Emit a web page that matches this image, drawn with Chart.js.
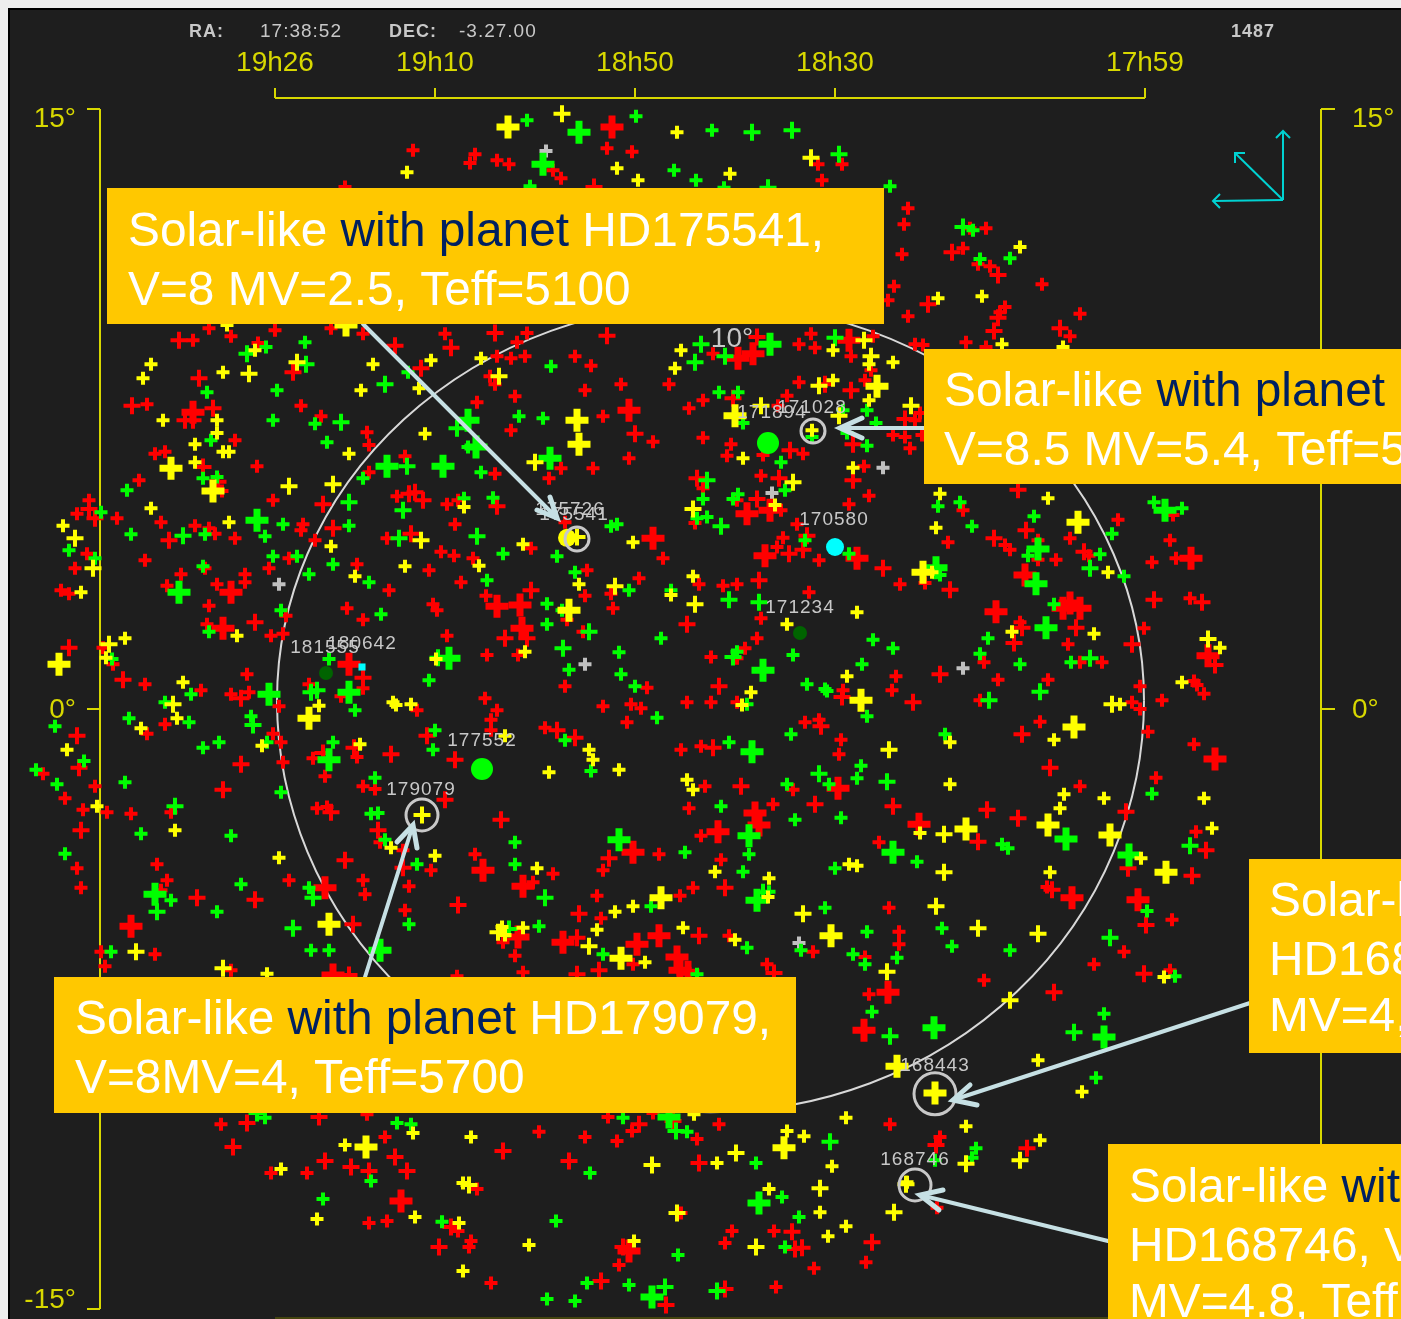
<!DOCTYPE html>
<html>
<head>
<meta charset="utf-8">
<title>HD star field</title>
<script src="https://cdn.jsdelivr.net/npm/chart.js@4/dist/chart.umd.min.js"></script>
<style>
  html, body { margin: 0; padding: 0; background: #eeeeee; overflow: hidden; }
  canvas { display: block; }
</style>
</head>
<body>
<canvas id="sky" width="1401" height="1319"></canvas>
<script>
// x = right ascension in minutes of time, y = declination in degrees
const raTicks = [1166, 1150, 1130, 1110, 1079];
const raLabels = ["19h26", "19h10", "18h50", "18h30", "17h59"];
const decTicks = [15, 0, -15];
const decLabels = ["15°", "0°", "-15°"];

const redSmall = [[1152.2,13.97],[1146,13.87],[1146.5,13.65],[1132.8,14.02],[1130.3,13.93],[1138.2,13.47],[1137.4,13.27],[1143.8,13.72],[1142.6,13.62],[1159,13.05],[1111.7,13.62],[1109.3,13.62],[1111.3,13.22],[1102.7,12.52],[1103.1,12.12],[1103.3,11.37],[1104.1,10.57],[1104.7,10.22],[1102.7,9.82],[1140.8,9.4],[1096.5,12.02],[1094.9,12.02],[1097.2,11.52],[1095.7,11.12],[1094.5,11.07],[1089.3,10.62],[1093,10.05],[1093.5,9.92],[1085.5,9.88],[1086.5,9.32],[1096.9,9.17],[1094.9,9.05],[1172.6,9.52],[1170.4,9.32],[1166,9.47],[1174.2,9.22],[1167.7,9.15],[1149,9.38],[1157.2,9.38],[1160.4,9.52],[1178.8,7.62],[1163.4,7.58],[1161.4,7.32],[1170,6.72],[1156.8,6.92],[1156.6,6.6],[1178,6.38],[1177,6.43],[1167.8,6.07],[1153,6.32],[1179.6,5.72],[1171.3,5.45],[1156.6,5.92],[1166.2,5.22],[1153.8,5.32],[1148.8,5.12],[1147.7,5.22],[1184.6,5.22],[1185.8,4.88],[1181.8,4.77],[1177.4,4.67],[1163.2,4.62],[1163.4,4.47],[1148,4.62],[1174,4.58],[1172.6,4.52],[1172,4.38],[1170,4.27],[1162,4.22],[1154.8,4.27],[1184.8,3.88],[1149.4,3.93],[1148.1,3.83],[1186,3.52],[1179,3.72],[1173,3.52],[1166.6,3.52],[1164.6,3.77],[1157.8,3.62],[1150.6,3.47],[1175.4,3.37],[1169,3.37],[1169,3.17],[1147.4,3.17],[1187.4,2.97],[1186.6,2.88],[1176.8,3.08],[1171.8,3.12],[1154.6,2.97],[1172.6,2.58],[1158.8,2.52],[1157.2,2.23],[1150.2,2.62],[1149.8,2.47],[1164.9,2.33],[1172.8,2.12],[1166.4,1.83],[1165.2,1.88],[1148.8,1.83],[1183.2,1.53],[1182.2,1.12],[1179,0.62],[1173.4,0.47],[1178.8,-0.62],[1177,-0.38],[1168.8,0.87],[1170.4,0.37],[1168.6,0.42],[1165.6,0.07],[1157.2,0.52],[1162.6,0.62],[1159.4,0.32],[1151.8,-0.03],[1189.2,-1.62],[1187,-2.23],[1185.2,-2.52],[1185.8,-3.98],[1185.4,-4.47],[1184,-1.93],[1182.8,-2.58],[1180.4,-2.62],[1176.4,-2.58],[1166.2,-0.62],[1165.4,-0.83],[1165.2,-1.33],[1157.8,-1.2],[1162.2,-1.23],[1161,-1.68],[1157.2,-1.93],[1156,-2],[1161.8,-2.48],[1160.8,-2.45],[1155.5,-3.33],[1153.2,-3.53],[1150.4,-4.03],[1177.8,-3.88],[1176.8,-4.28],[1177.4,-4.53],[1164.6,-4.28],[1157.2,-4.28],[1157,-4.63],[1152.6,-4.43],[1153,-5.03],[1183.4,-6.07],[1178,-6.13],[1183,-6.43],[1170.4,-6.53],[1147.8,-6.68],
[1141.8,9.17],[1143.8,8.82],[1142.4,8.77],[1141,8.82],[1136,8.82],[1134.4,8.58],[1144,8.12],[1144.5,8.32],[1131.4,8.12],[1135,7.97],[1142,7.82],[1145.8,7.67],[1133.2,7.32],[1142.4,6.97],[1128.2,6.68],[1144,5.88],[1137.4,6.02],[1138.6,5.77],[1134.2,6.02],[1130.6,6.27],[1140.4,4.02],[1146.2,3.77],[1137,4.67],[1127.2,3.77],[1134.8,3.47],[1132.4,2.88],[1129.6,3.27],[1135,2.83],[1144.9,2.83],[1132.2,2.52],[1136.8,2.23],[1135.2,1.93],[1144.8,1.35],[1141.7,1.35],[1123.6,3.12],[1121.2,3.08],[1119.8,3.12],[1117.4,2.27],[1112.6,2.92],[1117.8,1.77],[1119,1.52],[1119.8,1.27],[1122.4,1.3],[1126.6,8.12],[1122.2,8.88],[1113.6,9.12],[1112.4,9.38],[1112,9.03],[1108.4,8.82],[1106.2,9.32],[1102,9.12],[1101.2,9.1],[1113.6,8.17],[1107,8.22],[1106.4,8.47],[1114.8,7.83],[1101.5,7.4],[1124.6,7.52],[1123.2,7.72],[1115.7,7.58],[1102,7.22],[1104.2,6.85],[1103,6.8],[1101.3,6.85],[1102.5,6.52],[1123.2,6.78],[1120.4,6.62],[1120.8,6.33],[1113.2,6.38],[1117.2,6.35],[1107.1,6.07],[1123.2,5.52],[1117.4,5.83],[1106.6,5.33],[1119.8,5.22],[1108.6,5.12],[1124,4.65],[1115.4,4.97],[1113.8,4.62],[1115.2,4.28],[1115.8,4.05],[1111.6,3.72],[1103.5,3.12],[1101,3.15],
[1097.2,4.97],[1098.7,4.17],[1093,4.1],[1092.5,3.98],[1089.7,4.22],[1086.5,4.27],[1089.7,3.73],[1087.9,3.73],[1084.6,3.83],[1081.7,4.73],[1076.2,4.85],[1076.5,4.22],[1078.3,3.67],[1075.9,3.77],[1074.5,2.77],[1091.5,2.17],[1086.7,1.62],[1079.1,2.02],[1095.1,1.17],[1085.5,1.17],[1083.3,1.17],[1093.7,0.73],[1088.7,0.73],[1079.5,0.57],[1074.1,0.7],[1073.8,0.6],[1073.1,0.38],[1095.5,0.22],[1080.3,0.17],[1079.5,0],[1077.3,0.22],[1089.5,-0.32],[1078.7,-0.57],[1074.1,-0.88],[1077.9,-1.72],[1085.5,-1.93],[1073.9,-3.07],
[1109.2,0.47],[1104.3,0.47],[1103.9,0.82],[1145,0.27],[1143.8,-0.03],[1144.4,-0.27],[1144.4,-0.53],[1139,-0.47],[1137,0.57],[1128.8,0.53],[1133.2,0.07],[1130.4,0.12],[1129.4,0.02],[1124.8,0.17],[1122.4,0.17],[1119.8,0.17],[1130.8,-0.33],[1113,-0.33],[1111.6,-0.27],[1109.4,-0.77],[1109.6,-1.13],[1125.4,-1.02],[1123.4,-0.93],[1114.2,-2.02],[1123,-1.93],[1116.2,-2.38],[1124.6,-2.48],[1123.4,-3.17],[1105.6,-3.33],[1127.6,-3.63],[1121.4,-3.77],[1146,-3.63],[1138.2,-4.12],[1133.2,-4.03],[1140.2,-4.33],[1133.8,-4.67],[1125.5,-4.67],[1124.2,-4.47],[1104.6,-4.97],[1133.4,-5.23],[1143.2,-5.83],[1120.6,-5.67],[1103.6,-5.57],[1112.2,-6.07],[1103.6,-5.88],[1107,-6.2],[1130.2,-6.38],[1142,-6.17],[1116.8,-6.38],[1141.2,-6.58],
[1088.8,-4.45],[1076.3,-5.27],[1081.1,-6.07],[1084.1,-6.38],[1076.5,-6.53],[1095.1,-6.78],[1106.6,-7.13],[1104.5,-10.38],[1099.5,-10.7],[1099.8,-12.47],[1106.9,-13.83],[1112.1,-13.98],
[1171.4,-10.38],[1156.8,-10.13],[1155,-10.7],[1139.6,-10.57],[1135,-10.7],[1132.7,-10.2],[1130.3,-10.55],[1131.8,-10.8],[1128.2,-10.1],[1123.8,-10.75],[1121.6,-10.38],[1166.4,-11.6],[1162.8,-11.6],[1145.8,-12],[1125.4,-12.6],[1156.6,-12.85],[1154.8,-12.8],[1147.7,-13.05],[1120.3,-13.05],[1116.1,-13.05],[1146.4,-13.3],[1146.6,-13.45],[1131.6,-13.9],[1121,-13.35],[1144.4,-14.35],[1115.9,-14.45]];

const redMedium = [[1134.1,13.05],[1100.7,10.12],[1144,9.4],[1132.8,9.33],[1098.3,11.42],[1093.7,10.85],[1093.7,9.78],[1094.1,9.45],[1087.5,9.52],[1175.6,9.22],[1173.6,8.27],[1164.2,8.42],[1151.4,8.52],[1154,9.08],[1148.4,9.03],[1180.3,7.58],[1175,7.22],[1172.2,7.52],[1174.2,7.22],[1173.2,6.05],[1171.7,5.68],[1161.2,5.12],[1152.6,5.38],[1152,5.42],[1151.2,5.22],[1184.6,5],[1184,4.77],[1160.2,4.52],[1176.6,4.22],[1152.4,4.38],[1186.6,1.53],[1181.2,0.73],[1169.4,0.27],[1157.2,0.78],[1185.8,-0.67],[1185.6,-1.47],[1185.4,-3.03],[1169.4,-1.38],[1171.2,-2.02],[1158.1,-0.97],[1154.4,-1.13],[1161.2,-1.1],[1148,-1.27],[1150.8,-0.67],[1160.4,-2.58],[1149,-2.27],[1155.7,-3.03],[1159,-3.78],[1153.2,-3.97],[1173.8,-4.72],[1168,-4.77],[1147.7,-4.9],[1158.2,-5.38],[1168,2.17],[1158.6,-6.65],[1143.8,5.07],[1140.4,2.97],[1143,1.77],[1140.8,1.77],[1130,6.88],[1124.8,2.12],[1117.6,3.22],[1117.8,9.3],[1108.4,7.97],[1111,8.12],[1120.2,7.77],[1103,7.25],[1108.2,6.62],[1114.5,6.47],[1108.2,5.72],[1123.8,5.77],[1115.6,5.77],[1117.8,5.25],[1112.8,4.33],[1113.2,3.98],[1114.6,3.88],[1105.2,3.52],[1091.7,5.48],[1090.9,4.47],[1094.1,4.27],[1085.1,3.93],[1098.5,2.98],[1078.1,2.73],[1073.3,2.67],[1091.3,2.03],[1085.9,2.03],[1092.1,1.65],[1080.3,1.62],[1072,1.1],[1099.5,0.87],[1091.3,-0.63],[1088.5,-1.47],[1080.9,-2.57],[1094.8,-2.52],[1091.7,-2.73],[1095.7,-3.32],[1080.7,-3.98],[1074.3,-4.17],[1072.9,-3.53],[1121.6,0.57],[1109.3,0.3],[1102.2,0.17],[1137.8,-0.53],[1136,-0.72],[1111.4,-0.43],[1122.2,-0.97],[1119.4,-1.93],[1112,-2.38],[1104.2,-2.43],[1143.4,-2.77],[1132.6,-3.73],[1121,-4.47],[1135.6,-5.12],[1123.6,-5.67],[1135.8,-5.72],[1135.8,-6.63],[1133.6,-6.53],[1116.1,-6.6],[1088.3,-4.52],[1078.9,-5.4],[1079.1,-6.62],[1088.1,-7.08],[1099.9,-10.9],[1090.8,-10.98],[1106.3,-13.33],[1113.3,-13.47],[1168.8,-10.35],[1161.6,-10.2],[1129.6,-10.38],[1126.2,-10.3],[1170.2,-10.95],[1143.2,-11.05],[1161,-11.3],[1154,-11.2],[1158.4,-11.45],[1156.6,-11.55],[1152.8,-11.55],[1136.6,-11.3],[1123.6,-11.35],[1148.4,-12.95],[1114.3,-13.07],[1149.6,-13.45],[1131.2,-13.45],[1114,-13.5],[1133.4,-14.3],[1121,-14.5],[1126.9,-14.9]];

const redLarge = [[1132.3,14.55],[1174.2,7.42],[1170.4,2.92],[1171.2,2.02],[1158.6,1.12],[1161,-4.47],[1180.4,-5.43],[1160.2,-6.65],[1130.6,7.47],[1128.2,4.27],[1143.8,2.57],[1141.5,2.6],[1141.3,2.02],[1119.7,8.77],[1118.2,8.88],[1108.6,9.22],[1118.8,4.88],[1116.5,4.97],[1117,3.83],[1107.8,3.77],[1074.4,3.77],[1091,3.35],[1086.5,2.65],[1085.5,2.52],[1087.2,2.52],[1093.9,2.43],[1072.7,1.33],[1072,-1.25],[1109.7,-1.98],[1118,-2.6],[1117.6,-2.9],[1101.6,-2.88],[1121.7,-3.07],[1130.2,-3.58],[1145.2,-4.03],[1141.2,-4.43],[1141.7,-5.7],[1137.2,-5.83],[1127.6,-5.67],[1129.8,-5.88],[1125.8,-6.2],[1125.5,-6.53],[1124.7,-6.58],[1086.3,-4.72],[1079.7,-4.77],[1104.7,-7.08],[1107.1,-8.03],[1153.4,-12.3],[1130.6,-13.55]];

const greenSmall = [[1140.8,14.72],[1129.9,14.82],[1122.3,14.47],[1123.9,13.22],[1126.1,13.47],[1121.1,13.03],[1104.5,13.07],[1140.5,13.07],[1096.2,11.97],[1092.5,11.27],[1095.5,11.25],[1166.9,9.05],[1163,9.17],[1152.7,8.42],[1172.8,7.92],[1165.8,7.97],[1166.2,7.22],[1162,7.13],[1172.4,6.72],[1160.8,6.67],[1146.7,6.55],[1180.8,5.47],[1173.2,5.77],[1171.8,5.8],[1157.2,5.77],[1147.1,5.27],[1183.4,4.92],[1165.2,4.62],[1158.6,4.58],[1180.4,4.37],[1173,4.37],[1167,4.32],[1186.6,3.97],[1184,3.77],[1173.2,3.57],[1166.2,3.82],[1163.8,3.82],[1160.2,3.62],[1162.6,3.37],[1156.6,3.17],[1155.4,2.37],[1165.4,2.47],[1172.6,1.93],[1182.3,1.25],[1174.4,0.37],[1177,0.17],[1180.6,-0.23],[1174.6,-0.33],[1168.4,-0.18],[1160.6,1.25],[1150.6,0.72],[1158,-0.03],[1188,-0.43],[1185.1,-1.3],[1189.9,-1.52],[1187.8,-1.88],[1187,-3.62],[1181,-1.83],[1179.4,-3.12],[1171.6,-0.83],[1173.2,-0.97],[1170.4,-3.17],[1166.8,-0.83],[1165.4,-2.08],[1160.2,-0.83],[1150.2,-1.02],[1150,-0.53],[1156,-1.72],[1156.4,-2.62],[1155.7,-2.6],[1155,-3.27],[1151.8,-3.88],[1176.4,-4.78],[1169.4,-4.38],[1171.8,-5.07],[1162.6,-4.47],[1152.6,-5.38],[1182.4,-6.07],[1162.4,-6.03],[1160.6,-6.03],
[1138.4,8.57],[1141.6,7.32],[1139.2,7.27],[1145.4,5.92],[1144.2,5.28],[1143.2,3.88],[1137.8,3.82],[1132.4,4.57],[1131.8,4.62],[1136,3.42],[1144.8,3.22],[1130.6,2.97],[1138.8,2.63],[1137.3,2.47],[1138.8,2.12],[1127.4,1.77],[1131.6,1.42],[1126.4,2.97],[1106.2,1.73],[1104.2,1.52],[1119.8,1.43],[1114.2,1.35],[1121.6,7.92],[1119.7,7.92],[1106.8,7.47],[1119.2,7.15],[1105.9,7.15],[1109.2,7.47],[1112.3,6.8],[1106.8,6.58],[1108.8,6.9],[1115.4,6.17],[1115,5.47],[1123.2,5.25],[1119.7,5.37],[1120.2,5.25],[1123.8,4.77],[1122.8,4.8],[1113,4.22],[1108.6,3.88],
[1099.7,5.07],[1097.5,5.17],[1090.1,4.82],[1096.3,4.57],[1090.7,3.83],[1083.5,3.87],[1081.1,3.32],[1082.3,4.38],[1078.1,5.17],[1075.3,5.02],[1099.5,3.35],[1088.1,2.62],[1094.7,1.77],[1095.5,1.38],[1091.5,1.12],[1086.4,1.17],[1099,-0.63],[1078.3,-2.12],[1093.3,-3.38],[1092.7,-3.48],
[1107.3,1.12],[1136.6,0.98],[1131.4,0.87],[1112.8,0.62],[1111,0.5],[1110.8,0.45],[1106.8,-0.18],[1130,0.57],[1137,-0.78],[1134.4,-1.55],[1118.8,0.12],[1127.8,-0.22],[1114.4,-0.63],[1120.6,-0.83],[1107.4,-1.42],[1107.8,-1.73],[1110.6,-1.88],[1114.8,-1.88],[1121.4,-2.43],[1114,-2.77],[1109.4,-2.72],[1142,-3.33],[1125,-3.58],[1118.6,-3.63],[1110,-3.98],[1101.8,-3.82],[1142,-3.88],[1119.2,-4.07],[1116.6,-4.57],[1111,-4.97],[1128.4,-4.93],[1139.6,-5.43],[1118.8,-5.97],[1106.8,-5.57],[1113.4,-6.03],[1108.2,-6.13],[1107,-6.38],[1103.8,-6.22],[1133.2,-6.13],[1123.8,-6.63],
[1078.8,-5.05],[1099.3,-5.48],[1098.3,-5.93],[1092.5,-6.03],[1076,-6.68],[1106.3,-7.57],[1083.1,-7.62],[1083.9,-9.22],[1095.9,-10.98],[1096.3,-11.22],[1100,-11.28],[1167,-10.22],[1153.8,-10.35],[1152.4,-10.38],[1131.2,-10.22],[1124.8,-10.57],[1134.5,-11.6],[1117.9,-11.35],[1156.4,-11.8],[1161.2,-12.25],[1115.3,-12.2],[1149.3,-12.82],[1137.9,-12.8],[1113.6,-12.7],[1125.7,-13.65],[1115,-13.45],[1134.8,-14.35],[1130.6,-14.4],[1138.8,-14.75],[1136,-14.8]];

const greenMedium = [[1118.3,14.42],[1114.3,14.47],[1109.6,13.87],[1116.7,13.03],[1097.2,12.05],[1168.8,8.88],[1162.9,8.62],[1155,8.12],[1159.4,7.17],[1147.8,7.02],[1152.8,6.07],[1158.6,5.17],[1153.2,4.97],[1175.2,4.33],[1153.6,4.27],[1149.7,1.28],[1162.4,0.42],[1161.8,0.47],[1168.2,-0.4],[1176,-2.43],[1177.8,-5.07],[1162.2,-4.72],[1164.2,-5.48],[1145.8,4.32],[1137.2,1.52],[1134.6,1.93],[1124,8.67],[1123.4,9.12],[1121,8.82],[1110,9.28],[1122.8,5.72],[1121.4,4.57],[1120.6,2.73],[1117.6,2.67],[1084.5,3.52],[1084.5,1.27],[1089.5,0.43],[1094.6,0.22],[1074.5,-3.42],[1120.2,1.3],[1111.6,-1.62],[1104.8,-1.82],[1117.2,-4.58],[1139,-4.72],[1142.6,-5.5],[1082.5,-5.72],[1104.5,-8.18],[1086.1,-8.08],[1110.5,-10.82],[1125.9,-10.55],[1167.8,-10.1],[1127,-14.45],[1121.8,-14.55]];

const greenLarge = [[1135.6,14.42],[1139.2,13.62],[1146.7,7.22],[1154.8,6.07],[1149.2,6.07],[1167.8,4.72],[1175.6,2.92],[1166.6,0.37],[1158.6,0.42],[1160.6,-1.27],[1178,-4.63],[1155.5,-6.03],[1148.6,1.27],[1145.9,6.55],[1138.5,6.27],[1116.5,9.12],[1089.7,4],[1089.9,3.13],[1088.9,2.03],[1077,4.97],[1099.9,3.53],[1117.2,0.97],[1118.3,-1.07],[1118.6,-3.17],[1104.2,-3.58],[1131.6,-3.27],[1117.8,-4.78],[1086.9,-3.25],[1080.6,-3.65],[1100.1,-7.97],[1083.1,-8.2],[1126.6,-10.2],[1117.6,-12.35],[1128.3,-14.7]];

const yellowSmall = [[1152.8,13.42],[1125.8,14.42],[1120.5,13.38],[1129.7,13.22],[1131.8,13.52],[1091.5,11.55],[1095.3,10.32],[1099.7,10.27],[1093.3,9.12],[1087.2,9.05],[1170.8,9.6],[1168,8.97],[1178.4,8.62],[1179.2,8.27],[1171.2,8.42],[1156.2,8.62],[1157.4,7.97],[1150.4,8.72],[1151.6,8.02],[1177.2,7.22],[1171.8,7.22],[1171.8,6.9],[1174,6.62],[1171.2,6.43],[1170.6,6.43],[1158.6,6.38],[1151,6.88],[1174,6.17],[1178.4,5.02],[1187.2,4.58],[1170.6,4.67],[1147.1,5.05],[1160.4,4.07],[1153,3.57],[1158,3.32],[1185.4,2.92],[1169.8,1.83],[1181,1.77],[1182.9,1.28],[1149.9,1.25],[1175.2,0.67],[1175.8,-0.23],[1179.4,-0.48],[1161.6,0.08],[1154.2,0.17],[1153.9,0.1],[1152.4,0.12],[1186.8,-1.02],[1167.3,-0.92],[1157.5,-0.88],[1183.8,-2.43],[1176,-3.03],[1165.6,-3.72],[1154.4,-3.47],[1150,-3.67],[1166.8,-6.62],
[1145.4,8.77],[1141.2,4.12],[1145.6,3.58],[1130.2,4.17],[1135.6,3.12],[1141,1.43],[1126.4,2.85],[1124.2,3.32],[1114.8,2.12],[1107.8,2.42],[1125.4,8.97],[1126,8.52],[1110.2,8.97],[1106.6,8.62],[1104.2,8.67],[1110.2,8.22],[1106.6,7.72],[1112.3,6.97],[1119.2,6.27],[1108.2,6.03],[1116,5.1],[1099.5,5.38],[1088.7,5.27],[1099.9,4.53],[1082.7,3.42],[1100.3,3.42],[1092.3,1.93],[1084.1,1.88],[1071.5,1.53],[1075.3,0.67],[1081.5,0.12],[1098.5,-0.83],[1088.1,-0.77],[1098.5,-1.88],[1087.1,-2.13],[1073.1,-2.23],[1083.1,-2.23],[1087.5,-2.48],[1079.4,-3.73],[1072.3,-2.98],[1088.5,-4.08],
[1143,-0.67],[1108.8,0.82],[1118.4,0.42],[1119.3,0.1],[1134.6,-1.02],[1134.2,-1.27],[1138.6,-1.58],[1131.6,-1.52],[1124.8,-1.77],[1124.2,-2.02],[1101.5,-3.1],[1108.6,-3.88],[1107.8,-3.92],[1139.8,-3.98],[1122,-4.07],[1116.6,-4.23],[1116.7,-4.7],[1132,-5.07],[1130.2,-4.93],[1143.3,-5.45],[1141.2,-5.47],[1143,-5.65],[1125.2,-5.47],[1120,-5.77],[1133.8,-5.52],[1129,-6.33],[1077.1,-6.7],[1089.7,-8.78],[1085.3,-9.57],[1108.9,-10.22],[1096.9,-10.43],[1089.5,-10.78],[1113.1,-10.68],[1110.3,-11.43],[1102.8,-11.83],[1111.5,-12.58],[1108.9,-12.93],[1110.7,-13.18],
[1152.2,-10.6],[1146.4,-10.7],[1124.1,-10.13],[1159,-10.9],[1114.8,-10.55],[1165.4,-11.5],[1121.8,-11.35],[1147.2,-11.85],[1116.6,-12],[1161.8,-12.75],[1152,-12.7],[1147.6,-12.85],[1140.6,-13.4],[1130.1,-13.3],[1147.2,-14.05]];

const yellowMedium = [[1137.3,14.88],[1112.4,13.78],[1168.6,8.38],[1163.8,8.67],[1186,4.27],[1184.2,3.52],[1164.6,5.57],[1160.2,5.62],[1151.4,4.22],[1182.6,1.62],[1176.2,0.12],[1179.9,-6.07],[1171.2,-6.48],[1151.3,-2.65],[1143.6,8.32],[1140,6.17],[1135.8,4.3],[1132,3.07],[1124,2.62],[1107.1,9.22],[1106.4,8.82],[1111.6,8.08],[1102.4,7.58],[1117.4,7.58],[1109.6,7.33],[1114.2,5.67],[1124.2,5],[1082.3,0.12],[1072.7,1.75],[1099.1,-3.13],[1099.1,-4.08],[1104.6,-1.02],[1113.2,-5.12],[1134.6,-5.93],[1143.7,-5.58],[1104.8,-6.57],[1099.9,-4.93],[1095.7,-5.48],[1089.7,-5.62],[1092.5,-7.28],[1096.9,-11.37],[1091.5,-11.28],[1102.9,-11.88],[1111.5,-11.98],[1104.1,-12.58],[1119.9,-11.1],[1128.3,-11.4],[1146.6,-11.9],[1125.8,-12.6],[1117.9,-13.45]];

const yellowLarge = [[1142.7,14.55],[1158.9,9.6],[1176.4,6.02],[1172.2,5.45],[1187.6,1.12],[1162.6,-0.23],[1160.6,-5.38],[1135.8,7.22],[1135.6,6.62],[1136.6,2.47],[1120,7.33],[1105.8,8.07],[1101.2,3.42],[1085.7,4.67],[1107.4,0.22],[1086.1,-0.45],[1088.7,-2.9],[1082.5,-3.15],[1096.9,-3],[1076.9,-4.08],[1127.4,-4.72],[1110.4,-5.67],[1131.4,-6.23],[1103.8,-8.93],[1100,-9.6],[1156.9,-10.95],[1115.1,-10.97]];

const graySmall = [[1138.9,13.95],[1165.6,3.12],[1116.3,5.4],[1105.2,6.03],[1097.2,1.02],[1135,1.12],[1113.6,-5.85]];

const greenDots = [[1116.7,6.65],[1145.3,-1.5]];
const cyanDots = [[1110,4.05]];
const cyanSquares = [[1157.3,1.05]];
const darkDots = [[1113.5,1.9],[1160.9,0.9]];
const yellowDots = [[1136.8,4.28]];
const ringsSmall = [[1112.2,6.95],[1135.8,4.25]];
const ringsMedium = [[1151.3,-2.65],[1102,-11.9]];
const ringsLarge = [[1100,-9.62]];

const starNames = ["179079","171028","171894","170580","171234","181555","180642","177552","175726","175541","168443","168746"];
const starRa = [1151.4,1112.3,1116.3,1110.1,1113.5,1161,1157.3,1145.3,1136.5,1136.1,1100,1102];
const starDec = [-2.03,7.52,7.4,4.72,2.52,1.52,1.62,-0.8,4.97,4.85,-8.93,-11.28];

const RED = "#ff0000", GREEN = "#00ff00", YELLOW = "#ffff00", GRAY = "#c0c0c0";
const AXIS = "#d8d800", NOTE = "#ffc800", NAVY = "#002060", ARROW = "#c6e0e4", INK = "#c8c8c8", TEAL = "#00d2d2";
const SANS = '"Liberation Sans", Arial, sans-serif';

function marks(data, color, radius, width) {
  return { data, pointStyle: "cross", borderColor: color, backgroundColor: color,
           pointRadius: radius, pointBorderWidth: width, showLine: false, clip: false };
}
function dots(data, color, radius, style) {
  return { data, pointStyle: style || "circle", borderColor: color, backgroundColor: color,
           pointRadius: radius, pointBorderWidth: 0, showLine: false, clip: false };
}
function rings(data, radius) {
  return { data, pointStyle: "circle", borderColor: INK, backgroundColor: "transparent",
           pointRadius: radius, pointBorderWidth: 3, showLine: false, clip: false };
}

// yellow boxes with their coloured text runs
const notes = [
  { box: [107, 188, 777, 136], lines: [
    [128, 246, [["Solar-like ", "#fff"], ["with planet ", NAVY], ["HD175541,", "#fff"]]],
    [128, 305, [["V=8 MV=2.5, Teff=5100", "#fff"]]] ] },
  { box: [924, 349, 477, 135], lines: [
    [944, 406, [["Solar-like ", "#fff"], ["with planet", NAVY]]],
    [944, 465, [["V=8.5 MV=5.4, Teff=5", "#fff"]]] ] },
  { box: [1249, 859, 152, 194], lines: [
    [1269, 916, [["Solar-like", "#fff"]]],
    [1269, 975, [["HD168443,", "#fff"]]],
    [1269, 1031, [["MV=4,", "#fff"]]] ] },
  { box: [1108, 1144, 293, 175], lines: [
    [1129, 1202, [["Solar-like ", "#fff"], ["with", NAVY]]],
    [1129, 1261, [["HD168746, V", "#fff"]]],
    [1129, 1317, [["MV=4.8, Teff", "#fff"]]] ] },
  { box: [54, 977, 742, 136], lines: [
    [75, 1034, [["Solar-like ", "#fff"], ["with planet ", NAVY], ["HD179079,", "#fff"]]],
    [75, 1093, [["V=8MV=4, Teff=5700", "#fff"]]] ] }
];
const pointers = [
  [[363,324],[557,518],[550,497],[537,510]],
  [[924,428],[840,428],[862,418],[862,438]],
  [[365,977],[413,825],[397,842],[417,848]],
  [[1250,1003],[953,1100],[970,1085],[977,1105]],
  [[1108,1241],[920,1195],[943,1190],[939,1210]]
];

function line(ctx, pts, color, width) {
  ctx.strokeStyle = color;
  ctx.lineWidth = width;
  ctx.beginPath();
  pts.forEach((p, i) => i ? ctx.lineTo(p[0], p[1]) : ctx.moveTo(p[0], p[1]));
  ctx.stroke();
}

const frame = {
  id: "frame",
  beforeDraw(chart) {
    const ctx = chart.ctx;
    ctx.save();
    ctx.fillStyle = "#eeeeee";
    ctx.fillRect(0, 0, 1401, 1319);
    ctx.fillStyle = "#000000";
    ctx.fillRect(8, 8, 1393, 1311);
    ctx.fillStyle = "#1e1e1e";
    ctx.fillRect(10, 10, 1391, 1309);
    ctx.restore();
  },
  beforeDatasetsDraw(chart) {
    const ctx = chart.ctx, xs = chart.scales.x, ys = chart.scales.y;
    ctx.save();
    // RA bracket between first and last tick
    const x0 = xs.getPixelForValue(raTicks[0]), x1 = xs.getPixelForValue(raTicks[raTicks.length - 1]);
    line(ctx, [[x0, 98], [x1, 98]], AXIS, 2);
    line(ctx, [[x0, 1318], [x1, 1318]], "#6a6a00", 1);
    // Dec brackets on both sides
    const top = ys.getPixelForValue(15), bottom = ys.getPixelForValue(-15);
    line(ctx, [[100, top], [100, bottom]], AXIS, 2);
    line(ctx, [[1321, top], [1321, bottom]], AXIS, 2);
    ctx.font = "28px " + SANS;
    ctx.fillStyle = AXIS;
    ctx.textBaseline = "middle";
    const shift = [10, 1, -9];
    decTicks.forEach((v, i) => {
      const y = ys.getPixelForValue(v);
      line(ctx, [[87, y], [100, y]], AXIS, 2);
      line(ctx, [[1321, y], [1335, y]], AXIS, 2);
      ctx.textAlign = "right";
      ctx.fillText(decLabels[i], 76, y + shift[i]);
      ctx.textAlign = "left";
      ctx.fillText(decLabels[i], 1352, y + shift[i]);
    });
    // 10 degree ring around the field centre
    const cx = xs.getPixelForValue(1122.45), cy = ys.getPixelForValue(0.22);
    const rx = cx - xs.getPixelForValue(1165.8);
    ctx.strokeStyle = "#d8d8d8";
    ctx.lineWidth = 2;
    ctx.beginPath();
    ctx.ellipse(cx, cy, rx, ys.getPixelForValue(0.22 - 9.93) - cy, 0, Math.PI, 2 * Math.PI);
    ctx.stroke();
    ctx.beginPath();
    ctx.ellipse(cx, cy, rx, ys.getPixelForValue(0.22 - 10.3) - cy, 0, 0, Math.PI);
    ctx.stroke();
    ctx.restore();
  },
  afterDatasetsDraw(chart) {
    const ctx = chart.ctx, xs = chart.scales.x, ys = chart.scales.y;
    ctx.save();
    // header
    ctx.fillStyle = INK;
    ctx.textBaseline = "middle";
    ctx.textAlign = "left";
    ctx.letterSpacing = "1px";
    ctx.font = "bold 18px " + SANS;
    ctx.fillText("RA:", 189, 32);
    ctx.fillText("DEC:", 389, 32);
    ctx.fillText("1487", 1231, 32);
    ctx.font = "19px " + SANS;
    ctx.fillText("17:38:52", 260, 32);
    ctx.fillText("-3.27.00", 459, 32);
    ctx.font = "19px " + SANS;
    ctx.textAlign = "center";
    starNames.forEach((name, i) => ctx.fillText(name, xs.getPixelForValue(starRa[i]), ys.getPixelForValue(starDec[i])));
    ctx.letterSpacing = "0px";
    ctx.font = "28px " + SANS;
    ctx.fillText("10°", 732, 339);
    // compass
    [[[1283,200],[1283,131]], [[1283,200],[1213,201]], [[1283,200],[1235,153]]].forEach(s => line(ctx, s, TEAL, 2));
    line(ctx, [[1276,138],[1283,131],[1290,138]], TEAL, 2);
    line(ctx, [[1220,194],[1213,201],[1220,208]], TEAL, 2);
    line(ctx, [[1235,163],[1235,153],[1245,153]], TEAL, 2);
    // pointers then boxes
    ctx.lineCap = "round";
    pointers.forEach(p => {
      line(ctx, [p[0], p[1]], ARROW, 4);
      line(ctx, [p[2], p[1], p[3]], ARROW, 5);
    });
    ctx.lineCap = "butt";
    ctx.font = "47.8px " + SANS;
    ctx.textAlign = "left";
    ctx.textBaseline = "alphabetic";
    notes.forEach(n => {
      ctx.fillStyle = NOTE;
      ctx.fillRect(n.box[0], n.box[1], n.box[2], n.box[3]);
      n.lines.forEach(l => {
        let x = l[0];
        l[2].forEach(run => {
          ctx.fillStyle = run[1];
          ctx.fillText(run[0], x, l[1]);
          x += ctx.measureText(run[0]).width;
        });
      });
    });
    ctx.restore();
  }
};

new Chart(document.getElementById("sky").getContext("2d"), {
  type: "scatter",
  data: {
    datasets: [
      rings(ringsSmall, 12), rings(ringsMedium, 16), rings(ringsLarge, 21),
      marks(yellowSmall, YELLOW, 6.5, 4), marks(yellowMedium, YELLOW, 8.5, 4), marks(yellowLarge, YELLOW, 11.5, 7),
      dots(yellowDots, YELLOW, 9), dots(greenDots, GREEN, 11), dots(cyanDots, "#00ffff", 9),
      dots(cyanSquares, "#00ffff", 5, "rect"), dots(darkDots, "#006400", 7),
      marks(greenSmall, GREEN, 6.5, 4), marks(greenMedium, GREEN, 8.5, 4), marks(greenLarge, GREEN, 11.5, 7),
      marks(redSmall, RED, 6.5, 4), marks(redMedium, RED, 8.5, 4), marks(redLarge, RED, 11.5, 7),
      marks(graySmall, GRAY, 6.5, 4)
    ]
  },
  options: {
    responsive: false,
    devicePixelRatio: 1,
    animation: false,
    events: [],
    layout: { padding: 0, autoPadding: false },
    plugins: { legend: { display: false }, tooltip: { enabled: false } },
    scales: {
      x: {
        type: "linear",
        position: "top",
        reverse: true,
        min: 1053.4,
        max: 1193.5,
        afterBuildTicks: scale => { scale.ticks = raTicks.map(value => ({ value })); },
        afterFit: scale => { scale.height = 98; },
        border: { display: false },
        grid: { drawOnChartArea: false, drawTicks: true, tickLength: 10, color: AXIS, lineWidth: 2 },
        ticks: {
          color: AXIS,
          font: { family: SANS, size: 28 },
          padding: 8,
          autoSkip: false,
          maxRotation: 0,
          callback: value => raLabels[raTicks.indexOf(value)]
        }
      },
      y: {
        type: "linear",
        display: false,
        min: -15.25,
        max: 15.275
      }
    }
  },
  plugins: [frame]
});
</script>
</body>
</html>
